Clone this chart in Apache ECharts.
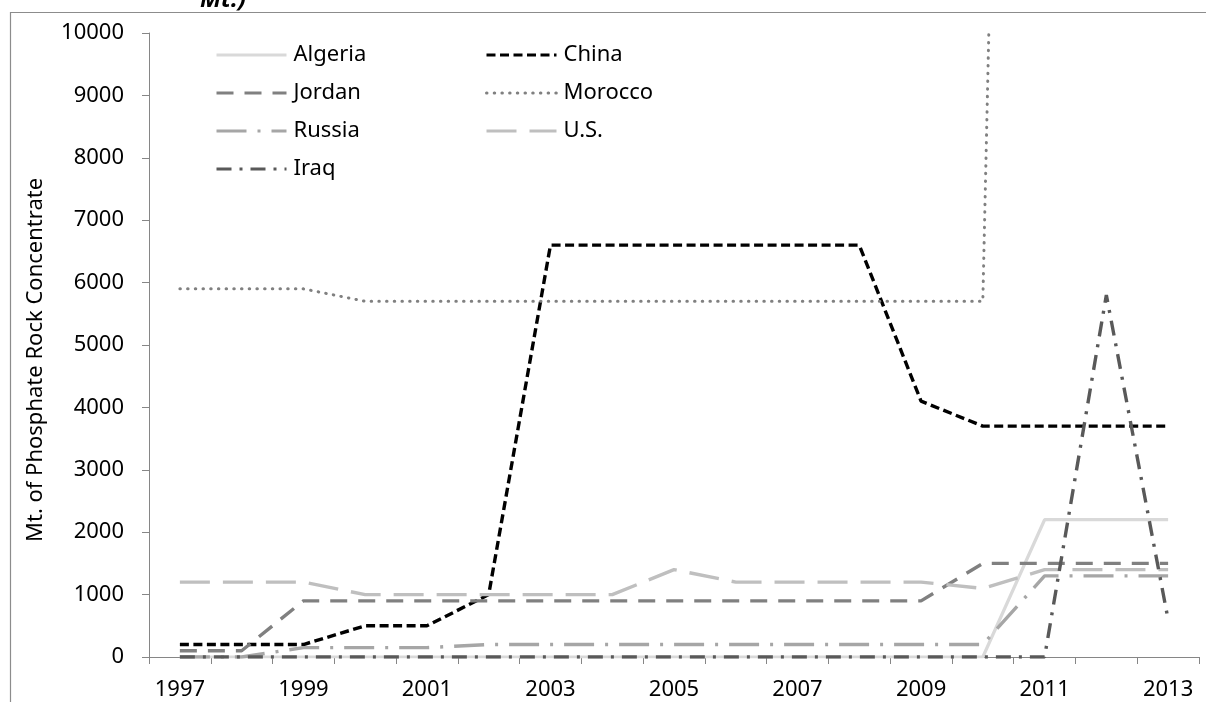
<!DOCTYPE html>
<html>
<head>
<meta charset="utf-8">
<script src="https://cdn.jsdelivr.net/npm/echarts@6/dist/echarts.min.js"></script>
<style>
html,body{margin:0;padding:0;background:#fff;}
#chart{width:1206px;height:702px;}
</style>
</head>
<body>
<div id="chart"></div>
<script>
var years = ['1997','1998','1999','2000','2001','2002','2003','2004','2005','2006','2007','2008','2009','2010','2011','2012','2013'];
var algeria = [0,0,0,0,0,0,0,0,0,0,0,0,0,0,2200,2200,2200];
var china   = [200,200,200,500,500,1000,6600,6600,6600,6600,6600,6600,4100,3700,3700,3700,3700];
var jordan  = [100,100,900,900,900,900,900,900,900,900,900,900,900,1500,1500,1500,1500];
var morocco = [5900,5900,5900,5700,5700,5700,5700,5700,5700,5700,5700,5700,5700,5700,50000,50000,50000];
var russia  = [0,0,150,150,150,200,200,200,200,200,200,200,200,200,1300,1300,1300];
var us      = [1200,1200,1200,1000,1000,1000,1000,1000,1400,1200,1200,1200,1200,1100,1400,1400,1400];
var iraq    = [0,0,0,0,0,0,0,0,0,0,0,0,0,0,0,5800,600];
var yTitle = 'Mt. of Phosphate Rock Concentrate';
var topTitle = 'Mt.)';

var FONT = 'Noto Sans';
var chart = echarts.init(document.getElementById('chart'));

function mk(name, data, color, width, type, cap) {
  return {
    name: name, type: 'line', data: data, symbol: 'none', smooth: false,
    clip: true, animation: false,
    lineStyle: { color: color, width: width, type: type, cap: cap || 'butt' },
    itemStyle: { color: color }
  };
}

var legendText = { fontFamily: FONT, fontSize: 22, color: '#000', lineHeight: 24, padding: [0,0,0,2] };
var legendBase = {
  orient: 'vertical', top: 38, itemWidth: 70, itemHeight: 14, itemGap: 14,
  selectedMode: false, textStyle: legendText,
  itemStyle: { color: 'transparent', borderWidth: 0, opacity: 0 },
  lineStyle: { width: 3 }
};

chart.setOption({
  backgroundColor: '#fff',
  animation: false,
  grid: { left: 149, right: 7, top: 33, bottom: 45, containLabel: false },
  legend: [
    Object.assign({}, legendBase, { left: 210, data: ['Algeria','Jordan','Russia','Iraq'] }),
    Object.assign({}, legendBase, { left: 480, data: ['China','Morocco','U.S.'] })
  ],
  xAxis: {
    type: 'category', data: years, boundaryGap: true,
    axisLine: { show: true, lineStyle: { color: '#868686', width: 1 } },
    axisTick: { show: true, interval: 0, length: 7, inside: false, lineStyle: { color: '#868686' } },
    axisLabel: { interval: 1, margin: 22, fontFamily: FONT, fontSize: 22, color: '#000' },
    splitLine: { show: false }
  },
  yAxis: {
    type: 'value', min: 0, max: 10000, interval: 1000,
    axisLine: { show: true, lineStyle: { color: '#868686', width: 1 } },
    axisTick: { show: true, length: 7, lineStyle: { color: '#868686' } },
    axisLabel: { margin: 25, fontFamily: FONT, fontSize: 22, color: '#000',
                 formatter: function (v) { return String(v); } },
    splitLine: { show: false }
  },
  graphic: [
    { type: 'rect', silent: true, z: -1,
      shape: { x: 10.5, y: 12.5, width: 1400, height: 900 },
      style: { fill: 'none', stroke: '#8c8c8c', lineWidth: 1.2 } },
    { type: 'text', x: 36, y: 542, rotation: Math.PI / 2,
      style: { text: yTitle, fontFamily: FONT, fontSize: 22, fill: '#000',
               textAlign: 'left', textVerticalAlign: 'middle' } },
    { type: 'text', x: 200, y: 0,
      style: { text: topTitle, fontFamily: FONT, fontSize: 24, fontWeight: 'bold', fontStyle: 'italic',
               fill: '#000', textAlign: 'left', textVerticalAlign: 'middle' } }
  ],
  series: [
    mk('Algeria', algeria, '#d9d9d9', 3.2, 'solid'),
    mk('China', china, '#000000', 3.4, [9, 4.5]),
    mk('Jordan', jordan, '#808080', 3.4, [17, 11]),
    mk('Morocco', morocco, '#808080', 3, [0.5, 7.2], 'round'),
    mk('Russia', russia, '#a6a6a6', 3.4, [30, 11, 3, 11]),
    mk('U.S.', us, '#bfbfbf', 3.4, [30, 13]),
    mk('Iraq', iraq, '#595959', 3.4, [15, 8, 3, 8])
  ]
});
</script>
</body>
</html>
